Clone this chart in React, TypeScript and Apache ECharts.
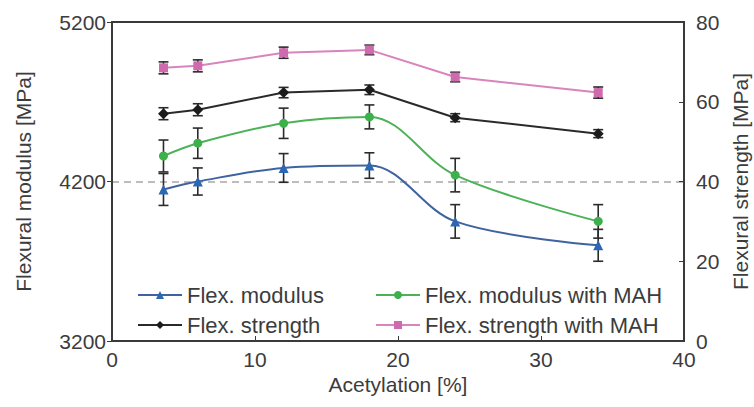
import React, { useEffect, useRef } from "react";
import * as echarts from "echarts";

// Acetylation degree [%]
const acetylation = [3.6, 6, 12, 18, 24, 34];

// Flexural modulus [MPa] (left axis)
const flexModulus = [4150, 4200, 4285, 4300, 3950, 3800];
const flexModulusErr = [100, 85, 90, 80, 105, 100];
const flexModulusMAH = [4360, 4440, 4565, 4605, 4240, 3950];
const flexModulusMAHErr = [100, 95, 95, 75, 105, 105];

// Flexural strength [MPa] (right axis)
const flexStrength = [57, 58, 62.3, 63, 56, 52];
const flexStrengthErr = [1.5, 1.5, 1.3, 1.2, 1, 1];
const flexStrengthMAH = [68.5, 69, 72.3, 73, 66.2, 62.3];
const flexStrengthMAHErr = [1.5, 1.5, 1.4, 1.2, 1.2, 1.4];

const seriesNames = [
  "Flex. modulus",
  "Flex. modulus with MAH",
  "Flex. strength",
  "Flex. strength with MAH",
];

const FONT = "Liberation Sans";
const TEXT = "#3c3c3c";
const AXIS = "#3a3a3a";
const FS = 21;

const pairs = (ys: number[]) => acetylation.map((x, i) => [x, ys[i]]);
const triples = (ys: number[], es: number[]) =>
  acetylation.map((x, i) => [x, ys[i], es[i]]);

function errorBar(params: any, api: any) {
  const x = api.value(0);
  const y = api.value(1);
  const e = api.value(2);
  const hi = api.coord([x, y + e]);
  const lo = api.coord([x, y - e]);
  const w = 5;
  const style = { stroke: "#2b2b2b", lineWidth: 1.6 };
  return {
    type: "group",
    children: [
      { type: "line", shape: { x1: hi[0], y1: hi[1], x2: lo[0], y2: lo[1] }, style },
      { type: "line", shape: { x1: hi[0] - w, y1: hi[1], x2: hi[0] + w, y2: hi[1] }, style },
      { type: "line", shape: { x1: lo[0] - w, y1: lo[1], x2: lo[0] + w, y2: lo[1] }, style },
    ],
  };
}

function errorSeries(id: string, ys: number[], es: number[], yAxisIndex: number) {
  return {
    type: "custom",
    name: id,
    yAxisIndex,
    z: 1,
    renderItem: errorBar,
    encode: { x: 0, y: 1 },
    data: triples(ys, es),
  };
}

const plain = (v: number) => String(v);

export default function App() {
  const ref = useRef<HTMLDivElement>(null);

  useEffect(() => {
    if (!ref.current) return;
    const chart = echarts.init(ref.current, undefined, { renderer: "svg" });

    const legendText = { fontFamily: FONT, fontSize: 22, color: TEXT, lineHeight: 22 };
    const labelStyle = { fontFamily: FONT, fontSize: FS, color: TEXT };

    chart.setOption({
      animation: false,
      grid: {
        left: 112,
        right: 70,
        top: 22,
        bottom: 66,
        show: true,
        borderColor: AXIS,
        borderWidth: 2,
        containLabel: false,
        outerBoundsMode: "none",
      },
      legend: [
        {
          data: [seriesNames[0], seriesNames[2]],
          orient: "vertical",
          left: 132,
          top: 279,
          itemWidth: 44,
          itemHeight: 10,
          itemGap: 8,
          textStyle: legendText,
        },
        {
          data: [seriesNames[1], seriesNames[3]],
          orient: "vertical",
          left: 370,
          top: 279,
          itemWidth: 44,
          itemHeight: 10,
          itemGap: 8,
          textStyle: legendText,
        },
      ],
      xAxis: {
        type: "value",
        min: 0,
        max: 40,
        interval: 10,
        name: "Acetylation [%]",
        nameLocation: "middle",
        nameGap: 33,
        nameTextStyle: labelStyle,
        axisLine: { lineStyle: { color: AXIS, width: 2 } },
        axisTick: { inside: true, length: 5, lineStyle: { color: AXIS } },
        axisLabel: { ...labelStyle, margin: 9, lineHeight: 18, formatter: plain },
        splitLine: { show: false },
      },
      yAxis: [
        {
          type: "value",
          min: 3200,
          max: 5200,
          interval: 1000,
          name: "Flexural modulus [MPa]",
          nameLocation: "middle",
          nameGap: 78,
          nameRotate: 90,
          nameTextStyle: labelStyle,
          axisLine: { show: true, lineStyle: { color: AXIS, width: 2 } },
          axisTick: { show: true, length: 5, lineStyle: { color: AXIS } },
          axisLabel: { ...labelStyle, margin: 6, formatter: plain },
          splitLine: {
            show: true,
            showMinLine: false,
            showMaxLine: false,
            lineStyle: { color: "#a8a8a8", type: [7, 5], width: 1.5 },
          },
        },
        {
          type: "value",
          position: "right",
          min: 0,
          max: 80,
          interval: 20,
          name: "Flexural strength [MPa]",
          nameLocation: "middle",
          nameGap: 46,
          nameRotate: 90,
          nameTextStyle: labelStyle,
          axisLine: { show: true, lineStyle: { color: AXIS, width: 2 } },
          axisTick: { show: true, inside: true, length: 5, lineStyle: { color: AXIS } },
          axisLabel: { ...labelStyle, margin: 12, lineHeight: 17, formatter: plain },
          splitLine: { show: false },
        },
      ],
      series: [
        errorSeries("err-modulus", flexModulus, flexModulusErr, 0),
        errorSeries("err-modulus-mah", flexModulusMAH, flexModulusMAHErr, 0),
        errorSeries("err-strength", flexStrength, flexStrengthErr, 1),
        errorSeries("err-strength-mah", flexStrengthMAH, flexStrengthMAHErr, 1),
        {
          type: "line",
          name: seriesNames[0],
          yAxisIndex: 0,
          z: 3,
          smooth: 0.35,
          data: pairs(flexModulus),
          symbol: "triangle",
          symbolSize: 10,
          color: "#2c67b4",
          lineStyle: { width: 2, color: "#3f63a0" },
        },
        {
          type: "line",
          name: seriesNames[1],
          yAxisIndex: 0,
          z: 3,
          smooth: 0.35,
          data: pairs(flexModulusMAH),
          symbol: "circle",
          symbolSize: 9,
          color: "#3cb04a",
          lineStyle: { width: 2, color: "#4cb257" },
        },
        {
          type: "line",
          name: seriesNames[2],
          yAxisIndex: 1,
          z: 3,
          data: pairs(flexStrength),
          symbol: "diamond",
          symbolSize: 11,
          color: "#1c1c1c",
          lineStyle: { width: 2, color: "#2a2a2a" },
        },
        {
          type: "line",
          name: seriesNames[3],
          yAxisIndex: 1,
          z: 3,
          data: pairs(flexStrengthMAH),
          symbol: "rect",
          symbolSize: 9,
          color: "#d06aae",
          lineStyle: { width: 2, color: "#d884bd" },
        },
      ],
    });

    return () => chart.dispose();
  }, []);

  return (
    <div
      ref={ref}
      style={{ position: "fixed", left: 0, top: 0, width: 754, height: 407, background: "#fff" }}
    />
  );
}
